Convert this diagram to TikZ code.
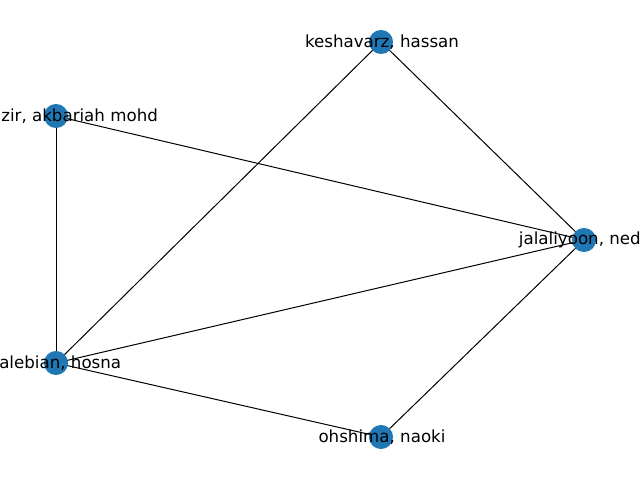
\documentclass[tikz,border=0pt]{standalone}
\usepackage{fontspec}
\setmainfont{DejaVu Sans}
\usetikzlibrary{backgrounds}
\definecolor{nxblue}{HTML}{1F77B4}
\begin{document}
\begin{tikzpicture}[x=0.72pt,y=-0.72pt,
  vertex/.style={circle,fill=nxblue,draw=none,minimum size=17.3pt,inner sep=0pt},
  lbl/.style={font=\fontsize{12pt}{14pt}\selectfont,inner sep=0pt,text=black},
  edge/.style={draw=black,line width=0.72pt}]
\useasboundingbox (0,0) rectangle (640,480);
\clip (0,0) rectangle (640,480);
\node[vertex] (kes) at (381,42) {};
\node[vertex] (akb) at (56,116) {};
\node[vertex] (jal) at (584,240) {};
\node[vertex] (tal) at (56,363) {};
\node[vertex] (ohs) at (381,437) {};
\begin{pgfonlayer}{background}
\draw[edge] (kes.center) -- (jal.center);
\draw[edge] (kes.center) -- (tal.center);
\draw[edge] (akb.center) -- (jal.center);
\draw[edge] (akb.center) -- (tal.center);
\draw[edge] (tal.center) -- (jal.center);
\draw[edge] (tal.center) -- (ohs.center);
\draw[edge] (ohs.center) -- (jal.center);
\end{pgfonlayer}
\node[lbl] (lkes) at (382,42) {keshavarz, hassan};
\node[lbl,anchor=west] (lakb) at (1,116) {zir, akbariah mohd};
\node[lbl,anchor=east] (ljal) at (641,240) {jalaliyoon, ned};
\node[lbl,anchor=west] (ltal) at (-1,363) {alebian, hosna};
\node[lbl] (lohs) at (382,437) {ohshima, naoki};
\end{tikzpicture}
\end{document}
